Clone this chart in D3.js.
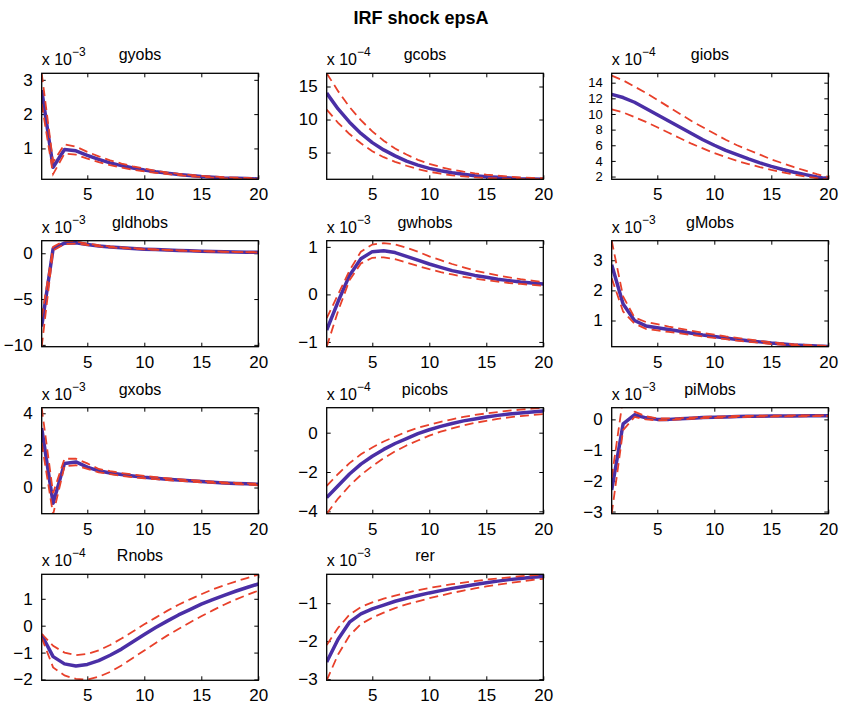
<!DOCTYPE html>
<html>
<head>
<meta charset="utf-8">
<script src="https://cdn.jsdelivr.net/npm/d3@7"></script>
<style>
  body { margin: 0; background: #fff; }
  text { font-family: "Liberation Sans", Arial, Helvetica, sans-serif; fill: #000; }
</style>
</head>
<body>
<svg></svg>
<script>
var W = 842, H = 706

var horizon = d3.range(1, 21)
var xTicks = [5, 10, 15, 20]

var names = ["gyobs", "gcobs", "giobs", "gldhobs", "gwhobs", "gMobs", "gxobs", "picobs", "piMobs", "Rnobs", "rer"]
var exponents = [-3, -4, -4, -3, -3, -3, -3, -4, -3, -4, -3]

// mean responses and bands (scaled by 10^exponent)
var gyobsMean = [2.7, 0.45, 0.97, 0.93, 0.8, 0.68, 0.58, 0.5, 0.43, 0.37, 0.32, 0.28, 0.24, 0.21, 0.18, 0.16, 0.14, 0.13, 0.12, 0.11]
var gyobsUp = [3.19, 0.6, 1.12, 1.05, 0.9, 0.77, 0.65, 0.56, 0.48, 0.41, 0.35, 0.3, 0.26, 0.23, 0.2, 0.18, 0.16, 0.15, 0.14, 0.13]
var gyobsLo = [2.3, 0.25, 0.85, 0.82, 0.7, 0.6, 0.51, 0.44, 0.38, 0.33, 0.29, 0.25, 0.22, 0.19, 0.17, 0.15, 0.13, 0.12, 0.11, 0.1]

var gcobsMean = [14, 11.6, 9.6, 7.9, 6.5, 5.4, 4.5, 3.7, 3.1, 2.6, 2.25, 1.95, 1.7, 1.5, 1.35, 1.25, 1.15, 1.05, 1.0, 0.95]
var gcobsUp = [17, 14.3, 11.9, 9.9, 8.2, 6.8, 5.6, 4.7, 3.9, 3.3, 2.8, 2.4, 2.1, 1.85, 1.65, 1.5, 1.35, 1.25, 1.18, 1.12]
var gcobsLo = [11.5, 9.5, 7.8, 6.4, 5.2, 4.3, 3.6, 3.0, 2.5, 2.1, 1.8, 1.55, 1.4, 1.25, 1.15, 1.07, 1.02, 0.99, 0.97, 0.96]

var giobsMean = [12.5, 12.1, 11.5, 10.7, 9.9, 9.1, 8.3, 7.5, 6.7, 6.0, 5.35, 4.8, 4.25, 3.75, 3.3, 2.9, 2.55, 2.25, 1.95, 1.7]
var giobsUp = [14.9, 14.3, 13.5, 12.7, 11.8, 10.9, 10.0, 9.1, 8.3, 7.5, 6.7, 6.0, 5.4, 4.8, 4.2, 3.7, 3.2, 2.75, 2.3, 1.95]
var giobsLo = [10.6, 10.2, 9.6, 9.0, 8.3, 7.6, 6.9, 6.2, 5.6, 5.0, 4.5, 4.0, 3.6, 3.2, 2.85, 2.55, 2.25, 2.0, 1.8, 1.65]

var gldhobsMean = [-8.0, 0.5, 1.1, 1.15, 0.95, 0.8, 0.68, 0.6, 0.52, 0.45, 0.4, 0.35, 0.3, 0.26, 0.23, 0.2, 0.17, 0.15, 0.12, 0.1]
var gldhobsUp = [-7.0, 0.7, 1.37, 1.3, 1.05, 0.88, 0.74, 0.64, 0.56, 0.48, 0.42, 0.37, 0.32, 0.28, 0.24, 0.21, 0.18, 0.16, 0.13, 0.11]
var gldhobsLo = [-10.2, 0.3, 1.0, 1.05, 0.9, 0.75, 0.64, 0.56, 0.49, 0.43, 0.38, 0.33, 0.29, 0.25, 0.22, 0.19, 0.16, 0.14, 0.11, 0.09]

var gwhobsMean = [-0.75, -0.15, 0.4, 0.75, 0.9, 0.92, 0.88, 0.8, 0.72, 0.64, 0.57, 0.5, 0.45, 0.4, 0.36, 0.32, 0.29, 0.26, 0.24, 0.22]
var gwhobsUp = [-0.5, 0.0, 0.5, 0.9, 1.05, 1.08, 1.05, 0.98, 0.9, 0.8, 0.72, 0.64, 0.57, 0.5, 0.45, 0.4, 0.36, 0.32, 0.29, 0.26]
var gwhobsLo = [-1.1, -0.35, 0.3, 0.65, 0.77, 0.78, 0.74, 0.67, 0.6, 0.53, 0.47, 0.42, 0.37, 0.33, 0.3, 0.27, 0.24, 0.22, 0.2, 0.18]

var gMobsMean = [2.85, 1.55, 1.0, 0.82, 0.76, 0.7, 0.64, 0.58, 0.52, 0.47, 0.42, 0.37, 0.33, 0.29, 0.25, 0.22, 0.19, 0.17, 0.15, 0.14]
var gMobsUp = [3.65, 1.8, 1.1, 0.95, 0.88, 0.8, 0.73, 0.66, 0.59, 0.53, 0.47, 0.42, 0.37, 0.32, 0.28, 0.24, 0.21, 0.19, 0.17, 0.15]
var gMobsLo = [2.4, 1.3, 0.9, 0.72, 0.67, 0.62, 0.57, 0.52, 0.47, 0.42, 0.38, 0.33, 0.29, 0.26, 0.22, 0.2, 0.17, 0.15, 0.14, 0.13]

var gxobsMean = [3.2, -0.85, 1.3, 1.38, 1.1, 0.9, 0.78, 0.7, 0.62, 0.55, 0.5, 0.45, 0.4, 0.36, 0.32, 0.28, 0.25, 0.22, 0.2, 0.17]
var gxobsUp = [4.3, -0.3, 1.55, 1.55, 1.3, 1.0, 0.88, 0.78, 0.7, 0.62, 0.56, 0.5, 0.45, 0.4, 0.36, 0.32, 0.28, 0.25, 0.22, 0.2]
var gxobsLo = [2.4, -1.45, 1.15, 1.2, 1.0, 0.82, 0.72, 0.63, 0.56, 0.5, 0.45, 0.4, 0.36, 0.32, 0.28, 0.25, 0.22, 0.19, 0.16, 0.12]

var picobsMean = [-3.3, -2.7, -2.1, -1.6, -1.2, -0.85, -0.55, -0.3, -0.05, 0.15, 0.32, 0.47, 0.6, 0.7, 0.8, 0.88, 0.95, 1.0, 1.05, 1.1]
var picobsUp = [-2.7, -2.1, -1.55, -1.1, -0.75, -0.45, -0.2, 0.05, 0.25, 0.4, 0.55, 0.68, 0.8, 0.9, 0.98, 1.05, 1.12, 1.17, 1.22, 1.27]
var picobsLo = [-4.12, -3.35, -2.7, -2.15, -1.7, -1.3, -0.95, -0.65, -0.4, -0.15, 0.05, 0.22, 0.37, 0.5, 0.6, 0.7, 0.78, 0.84, 0.9, 0.95]

var piMobsMean = [-2.3, -0.15, 0.15, 0.05, 0.0, 0.0, 0.02, 0.04, 0.06, 0.07, 0.08, 0.09, 0.1, 0.1, 0.11, 0.11, 0.11, 0.12, 0.12, 0.12]
var piMobsUp = [-1.9, 0.7, 0.25, 0.1, 0.03, 0.03, 0.04, 0.06, 0.08, 0.09, 0.1, 0.11, 0.11, 0.12, 0.12, 0.12, 0.13, 0.13, 0.13, 0.13]
var piMobsLo = [-3.07, -0.35, 0.08, 0.0, -0.03, -0.02, 0.0, 0.02, 0.04, 0.05, 0.06, 0.07, 0.08, 0.09, 0.09, 0.1, 0.1, 0.1, 0.11, 0.11]

var RnobsMean = [-0.35, -1.15, -1.42, -1.5, -1.44, -1.3, -1.1, -0.87, -0.6, -0.33, -0.07, 0.17, 0.4, 0.6, 0.8, 0.97, 1.13, 1.28, 1.42, 1.55]
var RnobsUp = [-0.3, -0.75, -1.0, -1.1, -1.05, -0.92, -0.72, -0.48, -0.22, 0.05, 0.3, 0.55, 0.78, 0.98, 1.17, 1.35, 1.5, 1.64, 1.77, 1.9]
var RnobsLo = [-0.45, -1.55, -1.85, -1.98, -2.0, -1.9, -1.72, -1.48, -1.2, -0.92, -0.64, -0.37, -0.12, 0.12, 0.35, 0.57, 0.78, 0.97, 1.14, 1.3]

var rerMean = [-2.55, -1.95, -1.5, -1.28, -1.15, -1.05, -0.95, -0.87, -0.8, -0.73, -0.67, -0.61, -0.56, -0.51, -0.46, -0.42, -0.38, -0.35, -0.32, -0.3]
var rerUp = [-2.1, -1.65, -1.3, -1.1, -0.98, -0.88, -0.8, -0.73, -0.66, -0.6, -0.55, -0.5, -0.46, -0.42, -0.38, -0.35, -0.32, -0.29, -0.27, -0.24]
var rerLo = [-3.03, -2.35, -1.85, -1.55, -1.38, -1.25, -1.13, -1.03, -0.95, -0.87, -0.8, -0.73, -0.67, -0.61, -0.56, -0.51, -0.47, -0.43, -0.39, -0.36]

// y axis ranges and tick labels per panel
var yDomains = [[0.1, 3.19], [0.95, 17], [1.65, 15.2], [-10.2, 1.37], [-1.1, 1.13], [0.13, 3.65], [-1.41, 4.3], [-4.12, 1.27], [-3.07, 0.38], [-2.03, 1.91], [-3.03, -0.24]]
var yTicks = [[1, 2, 3], [5, 10, 15], [2, 4, 6, 8, 10, 12, 14], [-10, -5, 0], [-1, 0, 1], [1, 2, 3], [0, 2, 4], [-4, -2, 0], [-3, -2, -1, 0], [-2, -1, 0, 1], [-3, -2, -1]]

var means = [gyobsMean, gcobsMean, giobsMean, gldhobsMean, gwhobsMean, gMobsMean, gxobsMean, picobsMean, piMobsMean, RnobsMean, rerMean]
var uppers = [gyobsUp, gcobsUp, giobsUp, gldhobsUp, gwhobsUp, gMobsUp, gxobsUp, picobsUp, piMobsUp, RnobsUp, rerUp]
var lowers = [gyobsLo, gcobsLo, giobsLo, gldhobsLo, gwhobsLo, gMobsLo, gxobsLo, picobsLo, piMobsLo, RnobsLo, rerLo]

var pw = 216.6, ph = 106,
    colLeft = [41.7, 326.7, 611.7],
    rowTop = [73.3, 240.7, 407.7, 574.3]

var svg = d3.select("svg").attr("width", W).attr("height", H)

svg.append("text")
    .attr("x", 421).attr("y", 24)
    .attr("text-anchor", "middle")
    .style("font-size", "18px")
    .style("font-weight", "bold")
    .text("IRF shock epsA")

names.forEach(function(name, i) {
    var col = i % 3, row = Math.floor(i / 3)
    var g = svg.append("g")
        .attr("transform", "translate(" + colLeft[col] + "," + rowTop[row] + ")")

    var x = d3.scaleLinear().domain([1, 20]).range([0, pw])
    var y = d3.scaleLinear().domain(yDomains[i]).range([ph, 0])

    var clipId = "clip" + i
    g.append("clipPath").attr("id", clipId)
        .append("rect").attr("width", pw).attr("height", ph)

    // ticks inward on all four sides
    var fmt = d3.format("d")
    g.append("g").attr("transform", "translate(0," + ph + ")")
        .call(d3.axisBottom(x).tickValues(xTicks).tickSize(-4).tickPadding(9).tickFormat(fmt))
        .selectAll("text").style("font-size", "17px")
    g.append("g")
        .call(d3.axisTop(x).tickValues(xTicks).tickSize(-4).tickFormat(""))
    // dense tick lists get a smaller font so labels do not collide
    var yFont = yTicks[i].length > 4 ? "13px" : "17px"
    g.append("g")
        .call(d3.axisLeft(y).tickValues(yTicks[i]).tickSize(-4).tickPadding(9).tickFormat(fmt))
        .selectAll("text").style("font-size", yFont)
    g.append("g").attr("transform", "translate(" + pw + ",0)")
        .call(d3.axisRight(y).tickValues(yTicks[i]).tickSize(-4).tickFormat(""))
    g.selectAll(".domain").remove()
    g.selectAll(".tick line").attr("stroke", "#000")
    g.selectAll(".tick text").attr("fill", "#000")

    var line = d3.line()
        .x(function(d, k) { return x(horizon[k]) })
        .y(function(d) { return y(d) })

    var plot = g.append("g").attr("clip-path", "url(#" + clipId + ")")
    plot.append("path").datum(means[i])
        .attr("d", line)
        .attr("fill", "none")
        .attr("stroke", "#4a2fa6")
        .attr("stroke-width", 3.5)
        .attr("stroke-linejoin", "round")
    ;[uppers[i], lowers[i]].forEach(function(band) {
        plot.append("path").datum(band)
            .attr("d", line)
            .attr("fill", "none")
            .attr("stroke", "#e8402a")
            .attr("stroke-width", 1.8)
            .attr("stroke-dasharray", "9,5")
    })

    g.append("rect")
        .attr("width", pw).attr("height", ph)
        .attr("fill", "none").attr("stroke", "#000").attr("stroke-width", 1.3)

    // exponent label and panel title
    var ex = g.append("text").attr("x", 0).attr("y", -8).style("font-size", "16px")
    ex.append("tspan").text("x 10")
    ex.append("tspan").attr("dy", -9).style("font-size", "12px").text("\u2212" + Math.abs(exponents[i]))

    g.append("text")
        .attr("x", pw / 2 - 10).attr("y", -13)
        .attr("text-anchor", "middle")
        .style("font-size", "16px")
        .text(name)
})
</script>
</body>
</html>
